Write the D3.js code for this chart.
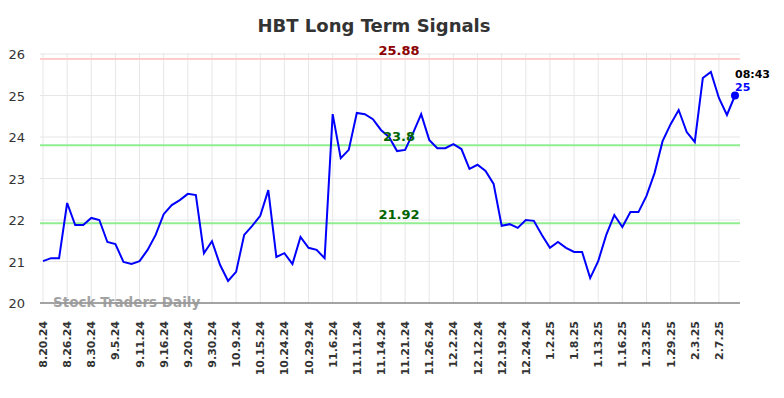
<html>
<head>
<meta charset="utf-8">
<script src="https://cdn.jsdelivr.net/npm/d3@7"></script>
<style>
  body { margin: 0; background: #fff; }
  text { font-family: "DejaVu Sans", sans-serif; }
</style>
</head>
<body>
<svg class="chart"></svg>
<script>
var title = "HBT Long Term Signals";
var values = [21.01, 21.08, 21.08, 22.41, 21.88, 21.88, 22.05, 22.0, 21.47, 21.42,
  20.99, 20.94, 21.01, 21.28, 21.64, 22.14, 22.36, 22.48, 22.63, 22.6,
  21.2, 21.49, 20.92, 20.53, 20.75, 21.64, 21.86, 22.1, 22.72, 21.11,
  21.2, 20.94, 21.59, 21.33, 21.28, 21.08, 24.55, 23.49, 23.69, 24.58,
  24.55, 24.43, 24.17, 24.0, 23.66, 23.69, 24.1, 24.55, 23.93, 23.73,
  23.73, 23.83, 23.71, 23.23, 23.33, 23.18, 22.87, 21.86, 21.9, 21.81,
  22.0, 21.98, 21.64, 21.33, 21.47, 21.33, 21.23, 21.23, 20.6, 21.01,
  21.64, 22.12, 21.83, 22.19, 22.19, 22.58, 23.13, 23.9, 24.31, 24.65,
  24.12, 23.88, 25.42, 25.57, 24.94, 24.53, 25.0];
var tickLabels = ["8.20.24", "8.26.24", "8.30.24", "9.5.24", "9.11.24", "9.16.24", "9.20.24",
  "9.30.24", "10.9.24", "10.15.24", "10.24.24", "10.29.24", "11.6.24", "11.11.24", "11.14.24",
  "11.21.24", "11.26.24", "12.2.24", "12.12.24", "12.19.24", "12.24.24", "1.2.25", "1.8.25",
  "1.13.25", "1.16.25", "1.23.25", "1.29.25", "2.3.25", "2.7.25"];
var tickStep = 3;
var yTicks = [20, 21, 22, 23, 24, 25, 26];
var levels = [25.88, 23.8, 21.92];
var levelColors = ["#ffcccc", "#90ee90", "#90ee90"];
var levelTextColors = ["#8b0000", "#006400", "#006400"];
var lastTime = "08:43";
var lastLabel = "25";

var W = 784, H = 398;
var pLeft = 40, pRight = 740, pTop = 54, pBottom = 303;

var svg = d3.select(".chart").attr("width", W).attr("height", H);

var x = d3.scaleLinear().domain([0, values.length - 1]).range([43, 735]);
var y = d3.scaleLinear().domain([20, 26]).range([pBottom, pTop]);

// title
svg.append("text")
  .attr("x", 374).attr("y", 32)
  .attr("text-anchor", "middle")
  .style("font-size", "18px").style("font-weight", "bold")
  .style("fill", "#333")
  .text(title);

// horizontal grid
svg.selectAll(".hgrid").data(yTicks).enter().append("line")
  .attr("x1", pLeft).attr("x2", pRight)
  .attr("y1", function(d) { return y(d); })
  .attr("y2", function(d) { return y(d); })
  .attr("stroke", "#e6e6e6").attr("stroke-width", 1);

// vertical grid
svg.selectAll(".vgrid").data(tickLabels).enter().append("line")
  .attr("x1", function(d, i) { return x(i * tickStep); })
  .attr("x2", function(d, i) { return x(i * tickStep); })
  .attr("y1", pTop - 1).attr("y2", pBottom)
  .attr("stroke", "#e6e6e6").attr("stroke-width", 1);

// y labels
svg.selectAll(".ylab").data(yTicks).enter().append("text")
  .attr("x", 25).attr("y", function(d) { return y(d) + 5; })
  .attr("text-anchor", "end")
  .style("font-size", "13px").style("fill", "#333")
  .text(function(d) { return d; });

// x labels
svg.selectAll(".xlab").data(tickLabels).enter().append("text")
  .attr("transform", function(d, i) { return "translate(" + (x(i * tickStep) + 4) + ",321) rotate(-90)"; })
  .attr("text-anchor", "end")
  .style("font-size", "11px").style("font-weight", "bold").style("fill", "#333")
  .text(function(d) { return d; });

// level lines
svg.selectAll(".level").data(levels).enter().append("line")
  .attr("x1", pLeft).attr("x2", pRight)
  .attr("y1", function(d) { return y(d); })
  .attr("y2", function(d) { return y(d); })
  .attr("stroke", function(d, i) { return levelColors[i]; })
  .attr("stroke-width", 2);

// x axis line
svg.append("line")
  .attr("x1", pLeft).attr("x2", pRight)
  .attr("y1", pBottom).attr("y2", pBottom)
  .attr("stroke", "#555").attr("stroke-width", 1);

// watermark
svg.append("text")
  .attr("x", 53).attr("y", 307)
  .style("font-size", "13.5px").style("font-weight", "bold")
  .style("fill", "#999").style("opacity", 0.9)
  .text("Stock Traders Daily");

// price line
var line = d3.line()
  .x(function(d, i) { return x(i); })
  .y(function(d) { return y(d); });
svg.append("path")
  .datum(values)
  .attr("d", line)
  .attr("fill", "none")
  .attr("stroke", "#0000ff")
  .attr("stroke-width", 2);

// level labels
svg.selectAll(".levlab").data(levels).enter().append("text")
  .attr("x", 399).attr("y", function(d) { return y(d) - 4; })
  .attr("text-anchor", "middle")
  .style("font-size", "13px").style("font-weight", "bold")
  .style("fill", function(d, i) { return levelTextColors[i]; })
  .text(function(d) { return d; });

// last point
var n = values.length - 1;
svg.append("circle")
  .attr("cx", x(n)).attr("cy", y(values[n]))
  .attr("r", 4).attr("fill", "#0000ff");
svg.append("text")
  .attr("x", x(n)).attr("y", y(values[n]) - 18)
  .style("font-size", "11px").style("font-weight", "bold").style("fill", "#000")
  .text(lastTime);
svg.append("text")
  .attr("x", x(n)).attr("y", y(values[n]) - 5)
  .style("font-size", "11px").style("font-weight", "bold").style("fill", "#0000ff")
  .text(lastLabel);
</script>
</body>
</html>
